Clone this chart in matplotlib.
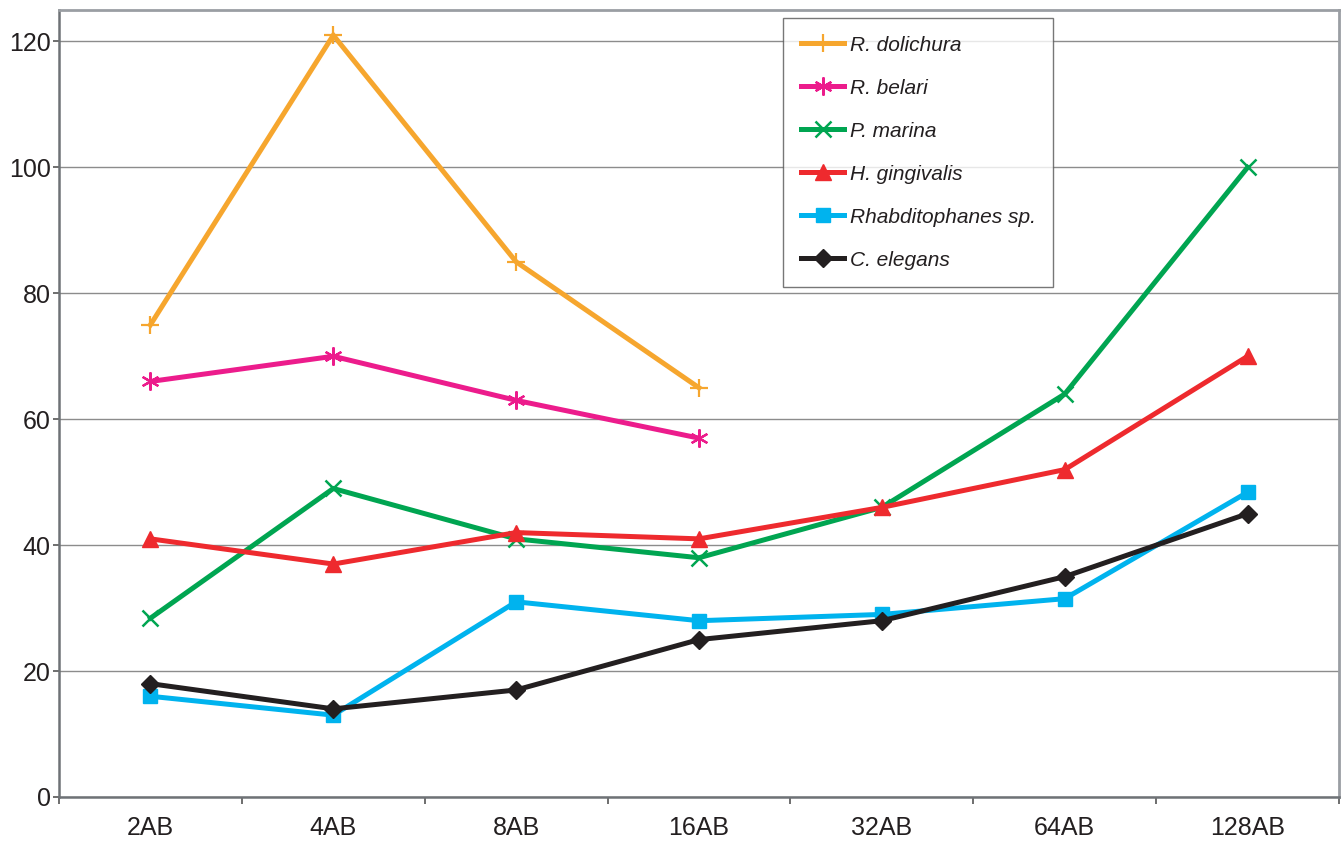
import matplotlib
matplotlib.use("Agg")
import matplotlib.pyplot as plt
from matplotlib.ticker import MultipleLocator, FixedLocator
import numpy as np

categories = ["2AB", "4AB", "8AB", "16AB", "32AB", "64AB", "128AB"]

r_dolichura = [75, 121, 85, 65]
r_belari = [66, 70, 63, 57]
p_marina = [28.4, 49, 41, 38, 46, 64, 100]
h_gingivalis = [41, 37, 42, 41, 46, 52, 70]
rhabditophanes = [16, 13, 31, 28, 29, 31.5, 48.4]
c_elegans = [18, 14, 17, 25, 28, 35, 45]

series = [
    ("R. dolichura", r_dolichura, "#F6A62E", "+", 13, 1.6),
    ("R. belari", r_belari, "#EC1C8C", (6, 2, 0), 13, 1.6),
    ("P. marina", p_marina, "#00A551", "x", 11, 1.8),
    ("H. gingivalis", h_gingivalis, "#EE2A2E", "^", 11.5, 1.0),
    ("Rhabditophanes sp.", rhabditophanes, "#00B3EE", "s", 10, 1.0),
    ("C. elegans", c_elegans, "#231F20", "D", 9.5, 1.0),
]

plt.rcParams["font.family"] = ["Liberation Sans", "DejaVu Sans"]

fig = plt.figure(figsize=(13.42, 8.42), dpi=100)
ax = fig.add_axes([59 / 1342, 45 / 842, 1280 / 1342, 787 / 842])

for name, vals, color, marker, ms, mew in series:
    x = np.arange(len(vals))
    ax.plot(x, vals, color=color, lw=3.6, marker=marker, markersize=ms,
            markeredgewidth=mew, markerfacecolor=color, markeredgecolor=color,
            label=name, solid_joinstyle="miter")

ax.set_xlim(-0.5, len(categories) - 0.5)
ax.set_ylim(0, 125)

ax.set_xticks(np.arange(len(categories)))
ax.set_xticklabels(categories)
ax.xaxis.set_minor_locator(FixedLocator(np.arange(-0.5, len(categories), 1.0)))
ax.tick_params(axis="x", which="major", length=0, pad=14, labelsize=18, colors="#231F20")
ax.tick_params(axis="x", which="minor", length=5, width=1.2, direction="out", color="#555555")

ax.yaxis.set_major_locator(MultipleLocator(20))
ax.tick_params(axis="y", which="major", length=4, width=1.2, direction="out",
               color="#555555", pad=2, labelsize=18, labelcolor="#231F20")

ax.grid(axis="y", color="#8C8C8C", lw=1.0)
ax.set_axisbelow(True)

for side in ["top", "right"]:
    ax.spines[side].set_color("#9A9EA3")
    ax.spines[side].set_linewidth(2.0)
for side in ["left", "bottom"]:
    ax.spines[side].set_color("#6E7276")
    ax.spines[side].set_linewidth(1.8)

leg = ax.legend(loc="upper left", bbox_to_anchor=(0.5656, 0.9898), borderaxespad=0,
                prop={"style": "italic", "size": 15}, frameon=True, fancybox=False,
                edgecolor="#555555", handlelength=2.1, handletextpad=0.25,
                labelspacing=1.15, borderpad=0.85)
leg.get_frame().set_linewidth(1.0)
for t in leg.get_texts():
    t.set_color("#231F20")

fig.savefig("out.png", dpi=100)
